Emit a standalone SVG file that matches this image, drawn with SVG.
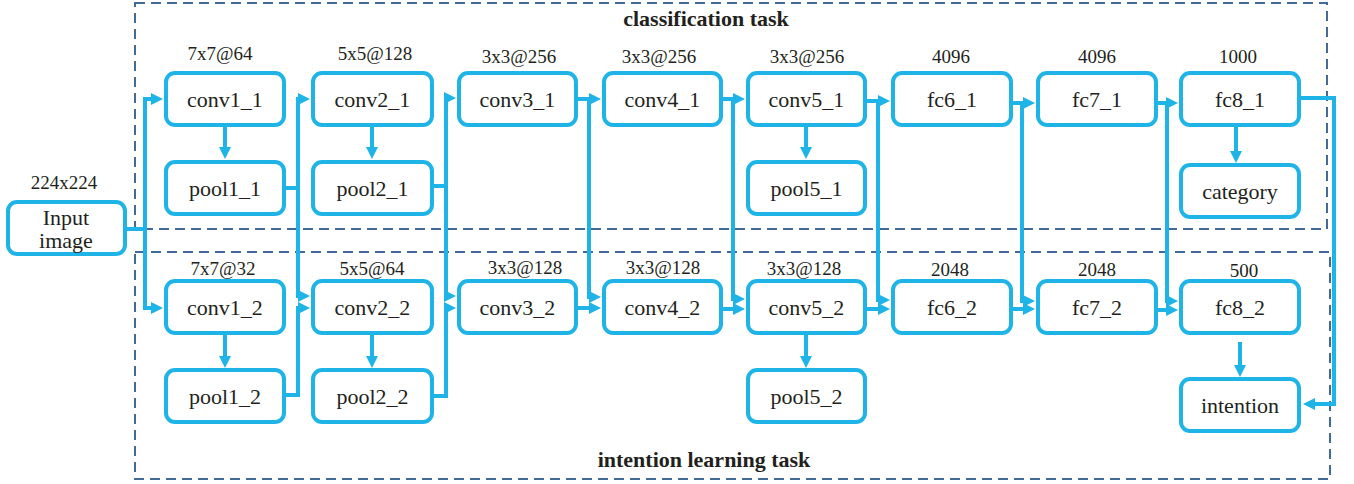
<svg xmlns="http://www.w3.org/2000/svg" width="1354" height="484" viewBox="0 0 1354 484">
  <style>
    .node rect { fill: #ffffff; stroke: #1fb4e8; stroke-width: 4; }
    .lbl { font-family: "Liberation Serif", "Times New Roman", serif; font-size: 22px; fill: #231f20; text-anchor: middle; }
    .dim { font-family: "Liberation Serif", "Times New Roman", serif; font-size: 19px; fill: #231f20; text-anchor: middle; }
    .title { font-family: "Liberation Serif", "Times New Roman", serif; font-size: 22px; font-weight: bold; fill: #231f20; text-anchor: middle; }
    .task { fill: none; stroke: #41699a; stroke-width: 2; stroke-dasharray: 10 6; }
    #connectors path { fill: none; stroke: #1fb4e8; stroke-width: 4; marker-end: url(#arrow); }
  </style>
  <defs>
    <marker id="arrow" markerUnits="userSpaceOnUse" markerWidth="12" markerHeight="12" refX="8" refY="6" orient="auto">
      <path d="M0,0 L12,6 L0,12 z" fill="#1fb4e8"/>
    </marker>
  </defs>

  <rect width="1354" height="484" fill="#ffffff"/>

  <!-- task regions -->
  <g id="tasks">
    <rect class="task" x="135" y="3" width="1192" height="226"/>
    <rect class="task" x="135" y="252" width="1195" height="227"/>
    <text class="title" x="706" y="26">classification task</text>
    <text class="title" x="704" y="467">intention learning task</text>
  </g>

  <!-- connectors -->
  <g id="connectors">
    <path d="M127,229 H145 V99 H159"/>
    <path d="M145,229 V308 H159"/>

    <path d="M225,127 V155"/>
    <path d="M225,335 V364"/>
    <path d="M286,188 H298 V99 H306"/>
    <path d="M298,188 V296 H306"/>
    <path d="M286,395 H298 V308 H306"/>

    <path d="M372,127 V155"/>
    <path d="M372,335 V364"/>
    <path d="M434,186 H446 V98 H452"/>
    <path d="M446,186 V296 H452"/>
    <path d="M434,396 H446 V308 H452"/>

    <path d="M578,99 H597"/>
    <path d="M589,99 V297 H597"/>
    <path d="M578,308 H597"/>

    <path d="M723,99 H741"/>
    <path d="M733,99 V299 H741"/>
    <path d="M723,309 H741"/>

    <path d="M806,127 V155"/>
    <path d="M806,335 V364"/>
    <path d="M867,101 H886"/>
    <path d="M878,101 V300 H886"/>
    <path d="M867,309 H886"/>

    <path d="M1013,103 H1031"/>
    <path d="M1022,103 V301 H1031"/>
    <path d="M1013,309 H1031"/>

    <path d="M1158,103 H1174"/>
    <path d="M1167,103 V301 H1174"/>
    <path d="M1158,310 H1174"/>

    <path d="M1236,127 V159"/>
    <path d="M1240,342 V373"/>
    <path d="M1301,98 H1334 V404 H1307"/>
  </g>

  <!-- input -->
  <g id="input" class="node">
    <rect x="8" y="202" width="117" height="52" rx="9"/>
    <text class="dim" x="64" y="189">224x224</text>
    <text class="lbl" x="66" y="225">Input</text>
    <text class="lbl" x="66" y="248">image</text>
  </g>

  <!-- classification branch -->
  <g id="conv1_1" class="node">
    <rect x="166" y="73" width="118" height="52" rx="9"/>
    <text class="dim" x="220" y="60">7x7@64</text>
    <text class="lbl" x="225" y="107">conv1_1</text>
  </g>
  <g id="pool1_1" class="node">
    <rect x="166" y="162" width="118" height="52" rx="9"/>
    <text class="lbl" x="225" y="196">pool1_1</text>
  </g>
  <g id="conv2_1" class="node">
    <rect x="313" y="73" width="119" height="52" rx="9"/>
    <text class="dim" x="375" y="60">5x5@128</text>
    <text class="lbl" x="372.5" y="107">conv2_1</text>
  </g>
  <g id="pool2_1" class="node">
    <rect x="313" y="162" width="119" height="52" rx="9"/>
    <text class="lbl" x="372.5" y="196">pool2_1</text>
  </g>
  <g id="conv3_1" class="node">
    <rect x="459" y="73" width="117" height="52" rx="9"/>
    <text class="dim" x="519" y="63">3x3@256</text>
    <text class="lbl" x="517.5" y="107">conv3_1</text>
  </g>
  <g id="conv4_1" class="node">
    <rect x="604" y="73" width="117" height="52" rx="9"/>
    <text class="dim" x="659" y="63">3x3@256</text>
    <text class="lbl" x="662.5" y="107">conv4_1</text>
  </g>
  <g id="conv5_1" class="node">
    <rect x="748" y="73" width="117" height="52" rx="9"/>
    <text class="dim" x="807" y="63">3x3@256</text>
    <text class="lbl" x="806.5" y="107">conv5_1</text>
  </g>
  <g id="pool5_1" class="node">
    <rect x="748" y="162" width="117" height="52" rx="9"/>
    <text class="lbl" x="806.5" y="196">pool5_1</text>
  </g>
  <g id="fc6_1" class="node">
    <rect x="893" y="73" width="118" height="52" rx="9"/>
    <text class="dim" x="951" y="63">4096</text>
    <text class="lbl" x="952" y="107">fc6_1</text>
  </g>
  <g id="fc7_1" class="node">
    <rect x="1038" y="73" width="118" height="52" rx="9"/>
    <text class="dim" x="1097" y="63">4096</text>
    <text class="lbl" x="1097" y="107">fc7_1</text>
  </g>
  <g id="fc8_1" class="node">
    <rect x="1181" y="73" width="118" height="52" rx="9"/>
    <text class="dim" x="1238" y="63">1000</text>
    <text class="lbl" x="1240" y="107">fc8_1</text>
  </g>
  <g id="category" class="node">
    <rect x="1181" y="165" width="118" height="52" rx="9"/>
    <text class="lbl" x="1240" y="199">category</text>
  </g>

  <!-- intention branch -->
  <g id="conv1_2" class="node">
    <rect x="166" y="281" width="118" height="52" rx="9"/>
    <text class="dim" x="223" y="275">7x7@32</text>
    <text class="lbl" x="225" y="315">conv1_2</text>
  </g>
  <g id="pool1_2" class="node">
    <rect x="166" y="370" width="118" height="52" rx="9"/>
    <text class="lbl" x="225" y="404">pool1_2</text>
  </g>
  <g id="conv2_2" class="node">
    <rect x="313" y="281" width="119" height="52" rx="9"/>
    <text class="dim" x="372" y="275">5x5@64</text>
    <text class="lbl" x="372.5" y="315">conv2_2</text>
  </g>
  <g id="pool2_2" class="node">
    <rect x="313" y="370" width="119" height="52" rx="9"/>
    <text class="lbl" x="372.5" y="404">pool2_2</text>
  </g>
  <g id="conv3_2" class="node">
    <rect x="459" y="281" width="117" height="52" rx="9"/>
    <text class="dim" x="525" y="274">3x3@128</text>
    <text class="lbl" x="517.5" y="315">conv3_2</text>
  </g>
  <g id="conv4_2" class="node">
    <rect x="604" y="281" width="117" height="52" rx="9"/>
    <text class="dim" x="663" y="274">3x3@128</text>
    <text class="lbl" x="662.5" y="315">conv4_2</text>
  </g>
  <g id="conv5_2" class="node">
    <rect x="748" y="281" width="117" height="52" rx="9"/>
    <text class="dim" x="804" y="275">3x3@128</text>
    <text class="lbl" x="806.5" y="315">conv5_2</text>
  </g>
  <g id="pool5_2" class="node">
    <rect x="748" y="370" width="117" height="52" rx="9"/>
    <text class="lbl" x="806.5" y="404">pool5_2</text>
  </g>
  <g id="fc6_2" class="node">
    <rect x="893" y="281" width="118" height="52" rx="9"/>
    <text class="dim" x="950" y="276">2048</text>
    <text class="lbl" x="952" y="315">fc6_2</text>
  </g>
  <g id="fc7_2" class="node">
    <rect x="1038" y="281" width="118" height="52" rx="9"/>
    <text class="dim" x="1097" y="276">2048</text>
    <text class="lbl" x="1097" y="315">fc7_2</text>
  </g>
  <g id="fc8_2" class="node">
    <rect x="1181" y="281" width="118" height="52" rx="9"/>
    <text class="dim" x="1244" y="277">500</text>
    <text class="lbl" x="1240" y="315">fc8_2</text>
  </g>
  <g id="intention" class="node">
    <rect x="1181" y="379" width="118" height="52" rx="9"/>
    <text class="lbl" x="1240" y="413">intention</text>
  </g>
</svg>
